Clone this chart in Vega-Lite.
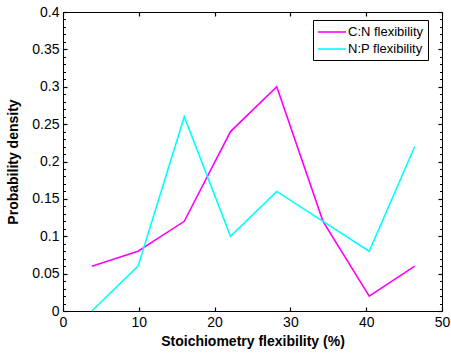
{
  "$schema": "https://vega.github.io/schema/vega-lite/v6.json",
  "width": 379,
  "height": 299,
  "autosize": {"type": "none"},
  "padding": {"left": 63, "top": 12, "right": 9, "bottom": 42},
  "background": "white",
  "config": {
    "view": {"stroke": "black", "strokeWidth": 1},
    "font": "Liberation Sans",
    "axis": {"grid": false, "labelFont": "Liberation Sans", "labelFontSize": 14, "labelColor": "black", "titleFont": "Liberation Sans", "titleFontSize": 14, "titleFontWeight": "bold", "titleColor": "black"}
  },
  "data": {"values": [
    {"series": "C:N flexibility", "x": 3.8, "y": 0.06},
    {"series": "C:N flexibility", "x": 9.9, "y": 0.08},
    {"series": "C:N flexibility", "x": 16.0, "y": 0.12},
    {"series": "C:N flexibility", "x": 22.1, "y": 0.24},
    {"series": "C:N flexibility", "x": 28.2, "y": 0.30},
    {"series": "C:N flexibility", "x": 34.3, "y": 0.12},
    {"series": "C:N flexibility", "x": 40.4, "y": 0.02},
    {"series": "C:N flexibility", "x": 46.4, "y": 0.06},
    {"series": "N:P flexibility", "x": 3.8, "y": 0.0},
    {"series": "N:P flexibility", "x": 9.9, "y": 0.06},
    {"series": "N:P flexibility", "x": 16.0, "y": 0.26},
    {"series": "N:P flexibility", "x": 22.1, "y": 0.10},
    {"series": "N:P flexibility", "x": 28.2, "y": 0.16},
    {"series": "N:P flexibility", "x": 34.3, "y": 0.12},
    {"series": "N:P flexibility", "x": 40.4, "y": 0.08},
    {"series": "N:P flexibility", "x": 46.4, "y": 0.22}
  ]},
  "resolve": {"axis": {"x": "independent", "y": "independent"}},
  "layer": [
    {
      "mark": {"type": "line", "strokeWidth": 1.6},
      "encoding": {
        "x": {"field": "x", "type": "quantitative", "scale": {"domain": [0, 50], "nice": false, "zero": false},
              "axis": {"orient": "bottom", "values": [0, 10, 20, 30, 40, 50], "format": "d", "domain": false, "ticks": true, "tickSize": -4, "tickColor": "black", "tickWidth": 1.2, "labelPadding": 8, "title": "Stoichiometry flexibility (%)", "titlePadding": 5, "labelFlush": false}},
        "y": {"field": "y", "type": "quantitative", "scale": {"domain": [0, 0.4], "nice": false, "zero": false},
              "axis": {"orient": "left", "values": [0, 0.05, 0.1, 0.15, 0.2, 0.25, 0.3, 0.35, 0.4], "format": "~g", "domain": false, "ticks": true, "tickSize": -4, "tickColor": "black", "tickWidth": 1.2, "labelPadding": 8, "title": "Probability density", "titlePadding": 11, "labelFlush": false}},
        "color": {"field": "series", "type": "nominal",
                  "scale": {"domain": ["C:N flexibility", "N:P flexibility"], "range": ["#ff00ff", "#00ffff"]},
                  "legend": {"title": null, "orient": "none", "legendX": 250, "legendY": 8, "symbolType": "M-1,0H3", "symbolSize": 196, "symbolStrokeWidth": 1.6, "labelFont": "Liberation Sans", "labelFontSize": 13, "labelColor": "black", "strokeColor": "black", "fillColor": "white", "padding": 4, "rowPadding": 2, "labelOffset": 15}}
      }
    },
    {
      "mark": {"type": "line", "opacity": 0},
      "encoding": {
        "x": {"field": "x", "type": "quantitative", "axis": {"orient": "top", "values": [0, 10, 20, 30, 40, 50], "labels": false, "domain": false, "ticks": true, "tickColor": "black", "tickWidth": 1.2, "title": null, "tickSize": -4}},
        "y": {"field": "y", "type": "quantitative", "axis": {"orient": "right", "values": [0, 0.05, 0.1, 0.15, 0.2, 0.25, 0.3, 0.35, 0.4], "labels": false, "domain": false, "ticks": true, "tickColor": "black", "tickWidth": 1.2, "title": null, "tickSize": -4}},
        "detail": {"field": "series"}
      }
    },
    {
      "mark": {"type": "line", "opacity": 0},
      "encoding": {
        "x": {"field": "x", "type": "quantitative", "axis": null},
        "y": {"field": "y", "type": "quantitative", "axis": {"orient": "left", "values": [0.01, 0.02, 0.03, 0.04, 0.06, 0.07, 0.08, 0.09, 0.11, 0.12, 0.13, 0.14, 0.16, 0.17, 0.18, 0.19, 0.21, 0.22, 0.23, 0.24, 0.26, 0.27, 0.28, 0.29, 0.31, 0.32, 0.33, 0.34, 0.36, 0.37, 0.38, 0.39], "labels": false, "domain": false, "ticks": true, "tickColor": "black", "tickWidth": 1, "title": null, "tickSize": -2.5}},
        "detail": {"field": "series"}
      }
    },
    {
      "mark": {"type": "line", "opacity": 0},
      "encoding": {
        "x": {"field": "x", "type": "quantitative", "axis": null},
        "y": {"field": "y", "type": "quantitative", "axis": {"orient": "right", "values": [0.01, 0.02, 0.03, 0.04, 0.06, 0.07, 0.08, 0.09, 0.11, 0.12, 0.13, 0.14, 0.16, 0.17, 0.18, 0.19, 0.21, 0.22, 0.23, 0.24, 0.26, 0.27, 0.28, 0.29, 0.31, 0.32, 0.33, 0.34, 0.36, 0.37, 0.38, 0.39], "labels": false, "domain": false, "ticks": true, "tickColor": "black", "tickWidth": 1, "title": null, "tickSize": -2.5}},
        "detail": {"field": "series"}
      }
    }
  ]
}
